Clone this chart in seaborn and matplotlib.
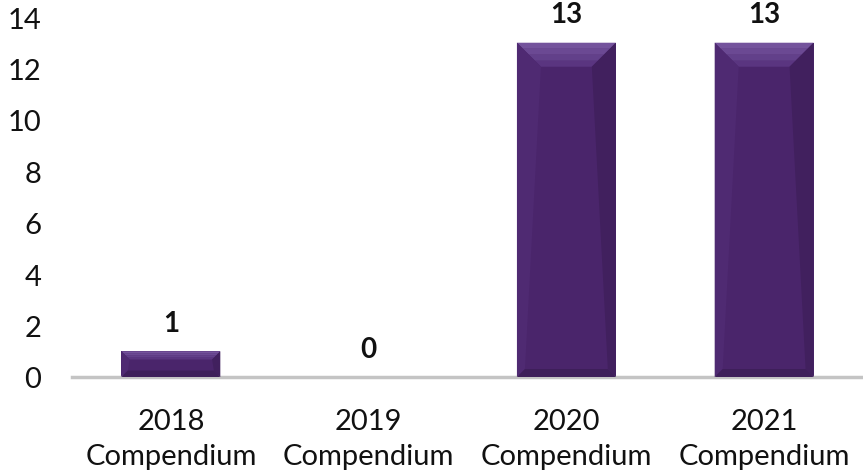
import matplotlib
matplotlib.use("Agg")
import matplotlib.pyplot as plt
from matplotlib.patches import Polygon
import seaborn as sns

# Data
categories = ["2018\nCompendium", "2019\nCompendium", "2020\nCompendium", "2021\nCompendium"]
values = [1, 0, 13, 13]
y_ticks = [0, 2, 4, 6, 8, 10, 12, 14]

sns.set_style("white")
plt.rcParams['font.family'] = ['Lato', 'DejaVu Sans']

fig = plt.figure(figsize=(8.63, 4.77), dpi=100)
ax = fig.add_axes([72 / 863, 1 - 378 / 477, 1 - 72 / 863, (378 - 18) / 477])

face = "#4a256b"
sns.barplot(x=categories, y=values, color=face, width=0.5, saturation=1, ax=ax,
            linewidth=0)

ax.set_xlim(-0.5, 3.5)
ax.set_ylim(0, 14)
ax.set_yticks(y_ticks)
ax.tick_params(axis="y", length=0, pad=22, labelsize=21, labelcolor="#111111")
ax.tick_params(axis="x", length=0, pad=22, labelsize=21, labelcolor="#111111")
for lbl in ax.get_xticklabels():
    lbl.set_linespacing(1.45)

for side in ["top", "right", "left"]:
    ax.spines[side].set_visible(False)
ax.spines["bottom"].set_color("#c4c4c4")
ax.spines["bottom"].set_linewidth(2.5)
ax.set_xlabel("")
ax.set_ylabel("")

# bevel look on each bar
px_x = ax.get_position().width * fig.get_figwidth() * fig.dpi / 4.0
px_y = ax.get_position().height * fig.get_figheight() * fig.dpi / 14.0
for p in list(ax.patches):
    x0, w, h = p.get_x(), p.get_width(), p.get_height()
    if h <= 0:
        continue
    d = min(24.0, h * px_y * 0.32)
    db = min(8.0, h * px_y * 0.25)
    dx, dy = d / px_x, d / px_y
    dbx, dby = db / px_x, db / px_y
    x1, y1 = x0 + w, h
    left = Polygon([(x0, 0), (x0, y1), (x0 + dx, y1 - dy), (x0 + dbx, dby)],
                   closed=True, facecolor="#4f2a72", edgecolor="none", zorder=3)
    right = Polygon([(x1, 0), (x1, y1), (x1 - dx, y1 - dy), (x1 - dbx, dby)],
                    closed=True, facecolor="#41205e", edgecolor="none", zorder=3)
    bottom = Polygon([(x0, 0), (x1, 0), (x1 - dbx, dby), (x0 + dbx, dby)],
                     closed=True, facecolor="#3e1f5a", edgecolor="none", zorder=3)
    # top bevel drawn as a few bands, lighter toward the edge
    shades = ["#5a3580", "#62408a", "#6b4993", "#74539c"]
    n = len(shades)
    for i, c in enumerate(shades):
        fa = i / n
        fb = (i + 1) / n
        ya, yb = y1 - dy * (1 - fa), y1 - dy * (1 - fb)
        xa, xb = dx * (1 - fa), dx * (1 - fb)
        band = Polygon([(x0 + xa, ya), (x1 - xa, ya), (x1 - xb, yb), (x0 + xb, yb)],
                       closed=True, facecolor=c, edgecolor="none", zorder=3)
        ax.add_patch(band)
    for poly in (left, right, bottom):
        ax.add_patch(poly)

ax.bar_label(ax.containers[0], labels=[str(v) for v in values], padding=11,
             fontsize=20, fontweight="bold", color="#111111")

fig.savefig("out.png", dpi=100)
